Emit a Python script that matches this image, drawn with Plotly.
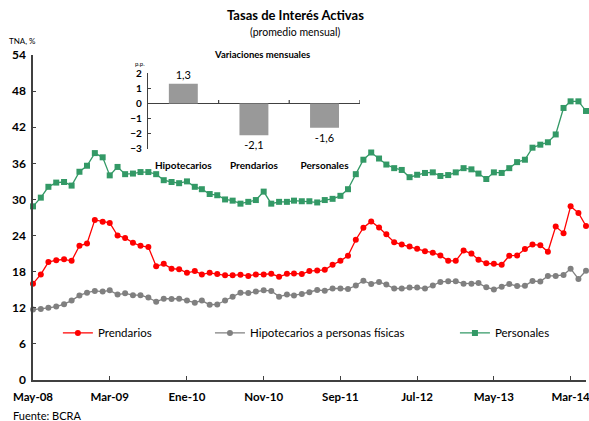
import pandas as pd
import plotly.graph_objects as go

# monthly series, May-08 .. May-14 (TNA, %)
months = pd.date_range("2008-05-01", periods=73, freq="MS")

prendarios = [16.0, 17.55, 19.6, 19.9, 20.05, 19.8, 22.3, 22.7, 26.6, 26.3,
              26.1, 24.0, 23.6, 22.8, 22.3, 22.1, 18.9, 19.3, 18.5, 18.4,
              17.8, 18.1, 17.55, 17.8, 17.6, 17.4, 17.4, 17.5, 17.3, 17.55,
              17.55, 17.65, 17.15, 17.65, 17.7, 17.6, 18.1, 18.2, 18.3, 19.15,
              19.8, 20.65, 23.3, 25.3, 26.35, 25.35, 24.2, 22.9, 22.5, 22.2,
              21.8, 21.4, 21.15, 20.7, 19.8, 19.8, 21.5, 21.0, 20.0, 19.4,
              19.3, 19.15, 20.65, 20.7, 21.75, 22.5, 22.4, 21.3, 25.5, 24.4,
              28.85, 27.75, 25.6]

hipotecarios = [11.7, 11.8, 12.0, 12.2, 12.6, 13.2, 14.05, 14.5, 14.8, 14.7,
                14.9, 14.2, 14.4, 14.1, 14.1, 13.7, 13.0, 13.5, 13.45, 13.5,
                13.2, 12.85, 13.2, 12.5, 12.55, 13.2, 13.85, 14.5, 14.45, 14.7,
                14.9, 14.8, 13.85, 14.2, 14.05, 14.3, 14.6, 14.95, 14.85, 15.2,
                15.2, 15.1, 15.7, 16.5, 15.95, 16.3, 15.85, 15.2, 15.2, 15.35,
                15.35, 15.2, 15.7, 16.3, 16.4, 16.4, 16.0, 16.0, 16.1, 15.4,
                15.05, 15.5, 15.95, 15.6, 15.65, 16.45, 16.35, 17.3, 17.3, 17.45,
                18.5, 16.8, 18.15]

personales = [28.85, 30.3, 32.1, 32.8, 32.9, 32.3, 34.6, 35.6, 37.7, 37.0,
              34.0, 35.4, 34.2, 34.3, 34.55, 34.55, 34.2, 33.2, 32.9, 32.7,
              33.0, 32.1, 31.7, 30.9, 30.7, 30.0, 29.8, 29.3, 29.6, 29.9,
              31.3, 29.3, 29.6, 29.6, 29.8, 29.7, 29.7, 29.5, 29.9, 30.1,
              30.6, 31.7, 34.2, 36.6, 37.8, 36.8, 35.8, 35.2, 34.9, 33.7,
              34.1, 34.4, 34.5, 33.9, 34.05, 34.5, 35.2, 35.0, 34.3, 33.4,
              34.5, 34.4, 35.2, 36.2, 36.6, 38.6, 39.1, 39.5, 40.8, 45.2,
              46.3, 46.3, 44.7]

tick_labels = ["May-08", "Mar-09", "Ene-10", "Nov-10", "Sep-11", "Jul-12", "May-13", "Mar-14"]

# inset: monthly change, p.p.
var_cats = ["Hipotecarios", "Prendarios", "Personales"]
var_vals = [1.3, -2.1, -1.6]

FONT = "Lato"
GREEN = "#339966"

fig = go.Figure()

series = [
    ("Prendarios", prendarios, "red", "circle", "legend"),
    ("Hipotecarios a personas físicas", hipotecarios, "#808080", "circle", "legend2"),
    ("Personales", personales, GREEN, "square", "legend3"),
]
for name, vals, color, symbol, leg in series:
    fig.add_trace(go.Scatter(
        x=months, y=vals, name=name, mode="lines+markers",
        line=dict(color=color, width=1.3),
        marker=dict(color=color, symbol=symbol, size=6),
        legend=leg, cliponaxis=False,
    ))

fig.add_trace(go.Bar(
    x=var_cats, y=var_vals, xaxis="x2", yaxis="y2",
    marker=dict(color="#999999", line_width=0), width=0.41,
    text=[f"{v:.1f}".replace(".", ",") for v in var_vals],
    texttemplate="%{text}", textposition="outside",
    textfont=dict(size=11, color="black"),
    cliponaxis=False, showlegend=False,
))

leg_common = dict(orientation="h", yanchor="middle", y=0.145, xanchor="left",
                  bgcolor="rgba(0,0,0,0)", font=dict(size=11.5, color="black"),
                  itemwidth=30)

fig.update_layout(
    width=589, height=421,
    margin=dict(l=33, r=3, t=55, b=41, autoexpand=False),
    paper_bgcolor="white", plot_bgcolor="white",
    font=dict(family=FONT, color="black"),
    legend=dict(leg_common, x=0.045),
    legend2=dict(leg_common, x=0.32),
    legend3=dict(leg_common, x=0.763),
    xaxis=dict(
        range=[months[0], months[-1]], tickvals=months[::10], ticktext=tick_labels,
        showline=True, linecolor="#404040", linewidth=1.5,
        ticks="inside", ticklen=4, tickcolor="#404040",
        tickfont=dict(size=11.5, weight="bold"), ticklabeloverflow="allow",
        ticklabelstandoff=5,
        showgrid=False, zeroline=False, automargin=False,
    ),
    yaxis=dict(
        range=[0, 54], dtick=6, showline=True, linecolor="#404040", linewidth=1.5,
        ticks="inside", ticklen=3, tickcolor="#404040",
        tickfont=dict(size=12, weight="bold"), ticklabelstandoff=3,
        showgrid=False, zeroline=False, automargin=False,
    ),
    xaxis2=dict(
        domain=[0.208, 0.591], anchor="y2", range=[-0.5, 2.5],
        showline=False, ticks="", showgrid=False,
        tickfont=dict(size=10, weight="bold"), ticklabelstandoff=9,
        automargin=False,
    ),
    yaxis2=dict(
        domain=[0.7108, 0.9446], anchor="x2", range=[-3, 2], dtick=1,
        showline=True, linecolor="#404040", linewidth=1.3,
        ticks="inside", ticklen=3, tickcolor="#404040",
        tickfont=dict(size=10, weight="bold"), ticklabelstandoff=3,
        showgrid=False, zeroline=True, zerolinecolor="#404040", zerolinewidth=1.3,
        automargin=False,
    ),
    showlegend=True,
)

# small boundary ticks on the inset zero line
for b in [0.5, 1.5, 2.5]:
    fig.add_shape(type="line", xref="x2", yref="y2", x0=b, x1=b, y0=0, y1=0.22,
                  line=dict(color="#404040", width=1.2))

notes = [
    ("<b>Tasas de Interés Activas</b>", "paper", "paper", 0.474, 1.123, "center", 13),
    ("(promedio mensual)", "paper", "paper", 0.474, 1.07, "center", 10.5),
    ("TNA, %", "paper", "paper", -0.047, 1.043, "left", 8),
    ("<b>Variaciones mensuales</b>", "x2 domain", "y2 domain", 0.54, 1.24, "center", 9.5),
    ("p.p.", "x2 domain", "y2 domain", -0.04, 1.12, "center", 6),
    ("Fuente: BCRA", "paper", "paper", -0.04, -0.108, "left", 11),
]
for text, xr, yr, x, y, xa, size in notes:
    fig.add_annotation(text=text, xref=xr, yref=yr, x=x, y=y, xanchor=xa,
                       yanchor="middle", showarrow=False, font=dict(size=size))

# drop the page's default body margin so the figure sits at (0, 0)
fig.write_html("out.html", config={"displayModeBar": False},
               post_script="document.body.style.margin='0';")
